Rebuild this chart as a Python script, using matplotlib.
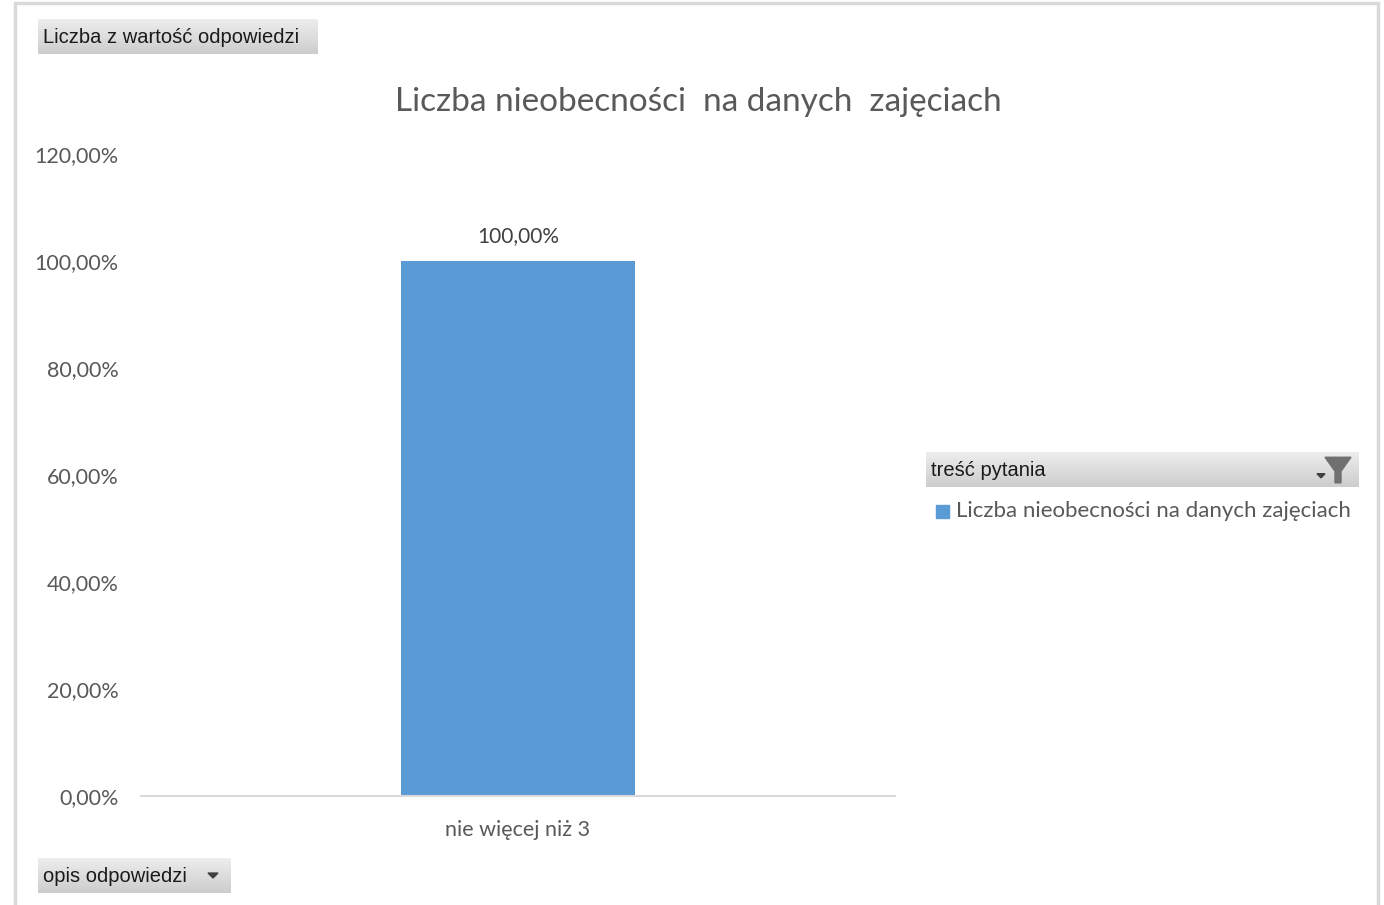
import matplotlib.pyplot as plt
from matplotlib.patches import Rectangle, Polygon
import numpy as np

categories = ["nie więcej niż 3"]
values = [1.0]
series_name = "Liczba nieobecności na danych zajęciach"
title = "Liczba nieobecności  na danych  zajęciach"
yticks = [0, 0.2, 0.4, 0.6, 0.8, 1.0, 1.2]

plt.rcParams['font.family'] = ['Lato', 'DejaVu Sans']

W, H = 1384, 905
fig = plt.figure(figsize=(W / 100, H / 100), dpi=100)
fig.patch.set_facecolor('white')

def px(x, y, w, h):
    # pixel box (top-left origin) -> figure fraction
    return [x / W, 1 - (y + h) / H, w / W, h / H]

# outer chart border (bottom edge is cut off in the screenshot)
fig.add_artist(Rectangle((15 / W, -0.02), (1378 - 15) / W, 1.02 - 3 / H, transform=fig.transFigure,
                         fill=False, edgecolor='#d9d9d9', linewidth=2.5))

ax = fig.add_axes(px(141, 154, 754, 642))
x = np.arange(len(categories))
bars = ax.bar(x, values, width=0.31, color='#5b9bd5', label=series_name, zorder=2)
ax.set_xlim(-0.5, 0.5)
ax.set_ylim(0, 1.2)
ax.set_yticks(yticks)
ax.set_yticklabels([f"{v * 100:.2f}%".replace('.', ',') for v in yticks])
ax.set_xticks(x)
ax.set_xticklabels(categories)
for s in ['top', 'right', 'left']:
    ax.spines[s].set_visible(False)
ax.spines['bottom'].set_color('#d9d9d9')
ax.spines['bottom'].set_linewidth(1.5)
ax.tick_params(axis='both', length=0, colors='#595959', labelsize=15.5)
ax.tick_params(axis='y', pad=16)
ax.tick_params(axis='x', pad=17)
for b, v in zip(bars, values):
    ax.annotate(f"{v * 100:.2f}%".replace('.', ','), (b.get_x() + b.get_width() / 2, v),
                xytext=(0, 11), textcoords='offset points', ha='center', va='bottom',
                fontsize=15, color='#404040')

fig.text(698 / W, 1 - 102 / H, title, ha='center', va='center', fontsize=24, color='#595959')

# pivot field buttons
def button(x0, y0, w, h, label):
    bax = fig.add_axes(px(x0, y0, w, h))
    grad = np.linspace(0.93, 0.80, 50).reshape(-1, 1)
    bax.imshow(grad, cmap='gray', vmin=0, vmax=1, aspect='auto', extent=[0, 1, 0, 1])
    bax.set_xlim(0, 1)
    bax.set_ylim(0, 1)
    bax.axis('off')
    bax.text(5 / w, 0.47, label, ha='left', va='center', fontsize=14.5, color='#1a1a1a',
             family=['Liberation Sans', 'DejaVu Sans'])
    return bax

button(38, 19, 280, 35, "Liczba z wartość odpowiedzi")
b2 = button(38, 858, 193, 35, "opis odpowiedzi")
b2.add_patch(Polygon([[(208 - 38) / 193, 0.57], [(218 - 38) / 193, 0.57], [(213 - 38) / 193, 0.43]],
                     closed=True, color='#404040'))
b3 = button(926, 452, 433, 35, "treść pytania")
# filter icon
fx = lambda p: (p - 926) / 433
b3.add_patch(Polygon([[fx(1325), 0.85], [fx(1351), 0.85], [fx(1341), 0.45], [fx(1341), 0.12],
                      [fx(1335), 0.12], [fx(1335), 0.45]], closed=True, color='#707070'))
b3.add_patch(Polygon([[fx(1317), 0.38], [fx(1325), 0.38], [fx(1321), 0.26]], closed=True, color='#404040'))

# legend
fig.add_artist(Rectangle((936 / W, 1 - 518 / H), 13 / W, 13 / H, transform=fig.transFigure,
                         color='#5b9bd5'))
fig.text(956 / W, 1 - 511 / H, series_name, ha='left', va='center', fontsize=16, color='#595959')

fig.savefig('out.png', dpi=100)
